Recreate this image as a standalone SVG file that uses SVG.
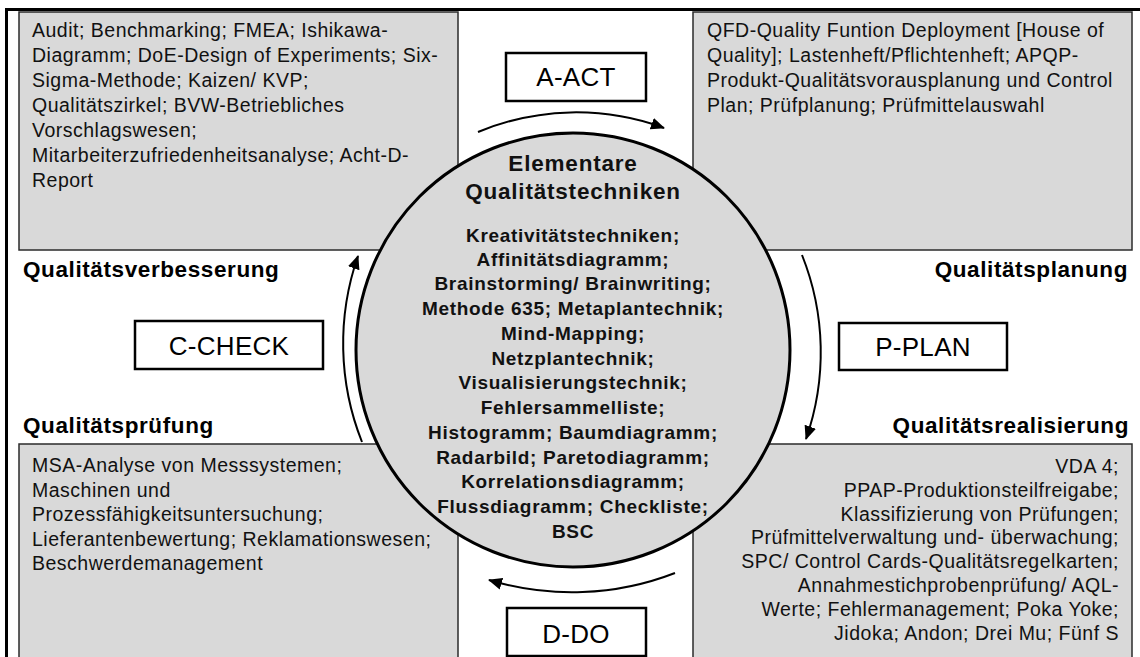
<svg xmlns="http://www.w3.org/2000/svg" width="1140" height="657" viewBox="0 0 1140 657">
  <style>
    .panel { fill: #d9d9d9; stroke: #2b2b2b; stroke-width: 1.5; }
    .tag { fill: #ffffff; stroke: #000000; stroke-width: 2.5; }
    .tagtxt { font-family: "Liberation Sans", Arial, sans-serif; font-size: 26px; fill: #000; text-anchor: middle; letter-spacing: 0.3px; }
    .body { font-family: "Liberation Sans", Arial, sans-serif; font-size: 19.5px; fill: #111; letter-spacing: 0.5px; }
    .head { font-family: "Liberation Sans", Arial, sans-serif; font-size: 22.5px; font-weight: bold; fill: #000; letter-spacing: 0.6px; }
    .title { font-family: "Liberation Sans", Arial, sans-serif; font-size: 22.5px; font-weight: bold; fill: #111; text-anchor: middle; letter-spacing: 0.8px; }
    .list { font-family: "Liberation Sans", Arial, sans-serif; font-size: 19px; font-weight: bold; fill: #111; text-anchor: middle; letter-spacing: 0.7px; }
    .cycle { fill: none; stroke: #000; stroke-width: 2; marker-end: url(#tip); }
  </style>
  <defs>
    <marker id="tip" markerUnits="userSpaceOnUse" markerWidth="16" markerHeight="14" refX="13" refY="6" orient="auto" viewBox="0 0 16 12">
      <path d="M0,0 L14,6 L0,12 z" fill="#000"/>
    </marker>
  </defs>

  <rect x="0" y="0" width="1140" height="657" fill="#ffffff"/>
  <!-- outer frame -->
  <rect x="6.5" y="9.5" width="1200" height="700" fill="none" stroke="#000" stroke-width="3"/>

  <!-- improvement panel (top left) -->
  <g id="panel-verbesserung">
    <rect class="panel" x="19" y="12" width="439" height="238"/>
    <text class="body" x="32" y="37">Audit; Benchmarking; FMEA; Ishikawa-</text>
    <text class="body" x="32" y="62">Diagramm; DoE-Design of Experiments; Six-</text>
    <text class="body" x="32" y="87">Sigma-Methode; Kaizen/ KVP;</text>
    <text class="body" x="32" y="112">Qualitätszirkel; BVW-Betriebliches</text>
    <text class="body" x="32" y="137">Vorschlagswesen;</text>
    <text class="body" x="32" y="162">Mitarbeiterzufriedenheitsanalyse; Acht-D-</text>
    <text class="body" x="32" y="187">Report</text>
  </g>

  <!-- planning panel (top right) -->
  <g id="panel-planung">
    <rect class="panel" x="693" y="12" width="439" height="238"/>
    <text class="body" x="707" y="37">QFD-Quality Funtion Deployment [House of</text>
    <text class="body" x="707" y="62">Quality]; Lastenheft/Pflichtenheft; APQP-</text>
    <text class="body" x="707" y="87">Produkt-Qualitätsvorausplanung und Control</text>
    <text class="body" x="707" y="112">Plan; Prüfplanung; Prüfmittelauswahl</text>
  </g>

  <!-- inspection panel (bottom left) -->
  <g id="panel-pruefung">
    <rect class="panel" x="19" y="444" width="439" height="230"/>
    <text class="body" x="32" y="472">MSA-Analyse von Messsystemen;</text>
    <text class="body" x="32" y="496.5">Maschinen und</text>
    <text class="body" x="32" y="521">Prozessfähigkeitsuntersuchung;</text>
    <text class="body" x="32" y="545.5">Lieferantenbewertung; Reklamationswesen;</text>
    <text class="body" x="32" y="570">Beschwerdemanagement</text>
  </g>

  <!-- realisation panel (bottom right) -->
  <g id="panel-realisierung">
    <rect class="panel" x="693" y="444" width="439" height="230"/>
    <g text-anchor="end">
      <text class="body" x="1119" y="473">VDA 4;</text>
      <text class="body" x="1119" y="496.8">PPAP-Produktionsteilfreigabe;</text>
      <text class="body" x="1119" y="520.6">Klassifizierung von Prüfungen;</text>
      <text class="body" x="1119" y="544.4">Prüfmittelverwaltung und- überwachung;</text>
      <text class="body" x="1119" y="568.2">SPC/ Control Cards-Qualitätsregelkarten;</text>
      <text class="body" x="1119" y="592">Annahmestichprobenprüfung/ AQL-</text>
      <text class="body" x="1119" y="615.8">Werte; Fehlermanagement; Poka Yoke;</text>
      <text class="body" x="1119" y="639.6">Jidoka; Andon; Drei Mu; Fünf S</text>
    </g>
  </g>

  <!-- section headings -->
  <g id="headings">
    <text class="head" x="23" y="277">Qualitätsverbesserung</text>
    <text class="head" x="1128" y="277" text-anchor="end">Qualitätsplanung</text>
    <text class="head" x="23" y="433">Qualitätsprüfung</text>
    <text class="head" x="1129" y="433" text-anchor="end">Qualitätsrealisierung</text>
  </g>

  <!-- central circle -->
  <g id="core">
    <circle cx="573" cy="350" r="217" fill="#d9d9d9" stroke="#000" stroke-width="3"/>
    <text class="title" x="573" y="171">Elementare</text>
    <text class="title" x="573" y="199">Qualitätstechniken</text>
    <text class="list" x="573" y="242">Kreativitätstechniken;</text>
    <text class="list" x="573" y="266">Affinitätsdiagramm;</text>
    <text class="list" x="573" y="290">Brainstorming/ Brainwriting;</text>
    <text class="list" x="573" y="315">Methode 635; Metaplantechnik;</text>
    <text class="list" x="573" y="340">Mind-Mapping;</text>
    <text class="list" x="573" y="365">Netzplantechnik;</text>
    <text class="list" x="573" y="389">Visualisierungstechnik;</text>
    <text class="list" x="573" y="414">Fehlersammelliste;</text>
    <text class="list" x="573" y="439">Histogramm; Baumdiagramm;</text>
    <text class="list" x="573" y="464">Radarbild; Paretodiagramm;</text>
    <text class="list" x="573" y="488">Korrelationsdiagramm;</text>
    <text class="list" x="573" y="513">Flussdiagramm; Checkliste;</text>
    <text class="list" x="573" y="538">BSC</text>
  </g>

  <!-- PDCA tags -->
  <g id="tag-act">
    <rect class="tag" x="506" y="53" width="140" height="48"/>
    <text class="tagtxt" x="576" y="86">A-ACT</text>
  </g>
  <g id="tag-plan">
    <rect class="tag" x="839" y="323" width="168" height="47"/>
    <text class="tagtxt" x="923" y="356">P-PLAN</text>
  </g>
  <g id="tag-check">
    <rect class="tag" x="135" y="321" width="188" height="48"/>
    <text class="tagtxt" x="229" y="355">C-CHECK</text>
  </g>
  <g id="tag-do">
    <rect class="tag" x="507" y="608" width="139" height="48"/>
    <text class="tagtxt" x="576" y="643">D-DO</text>
  </g>

  <!-- cycle arrows -->
  <g id="connectors">
    <path class="cycle" d="M478,132 A255,255 0 0 1 664,128"/>
    <path class="cycle" d="M802,255 A262,262 0 0 1 806,439"/>
    <path class="cycle" d="M675,573 A285,285 0 0 1 489,580"/>
    <path class="cycle" d="M362,442 A266,266 0 0 1 358,256"/>
  </g>
</svg>
